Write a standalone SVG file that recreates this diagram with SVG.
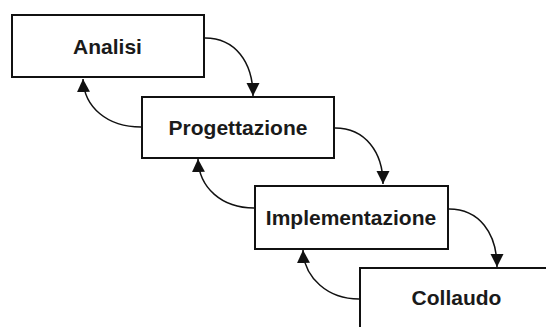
<svg xmlns="http://www.w3.org/2000/svg" width="546" height="327" viewBox="0 0 546 327">
  <defs>
    <style>
      .box { fill: #ffffff; stroke: #111111; stroke-width: 2; }
      .label { font-family: "Liberation Sans", Arial, sans-serif; font-weight: bold; font-size: 21px; fill: #1a1a1a; text-anchor: middle; }
      .conn { fill: none; stroke: #111111; stroke-width: 1.5; marker-end: url(#arrow); }
    </style>
    <marker id="arrow" markerUnits="userSpaceOnUse" markerWidth="14" markerHeight="14" refX="13" refY="6.5" orient="auto">
      <path d="M0,0 L13,6.5 L0,13 z" fill="#111111"/>
    </marker>
  </defs>
  <rect width="546" height="327" fill="#ffffff"/>
  <g id="connectors">
    <path class="conn" d="M205,38 C235,38 253,62 253,96"/>
    <path class="conn" d="M335,128 C365,128 383,152 383,184"/>
    <path class="conn" d="M449,209 C479,209 497,233 497,267"/>
    <path class="conn" d="M141,127 C107,127 84,107 83,79"/>
    <path class="conn" d="M254,208 C222,208 199,188 198,159"/>
    <path class="conn" d="M359,299 C328,299 304,278 303,250"/>
  </g>
  <g id="analisi">
    <rect class="box" x="12" y="15" width="192" height="62"/>
    <text class="label" x="107.5" y="54">Analisi</text>
  </g>
  <g id="progettazione">
    <rect class="box" x="142" y="97" width="192" height="61"/>
    <text class="label" x="238" y="135">Progettazione</text>
  </g>
  <g id="implementazione">
    <rect class="box" x="255" y="186" width="193" height="63"/>
    <text class="label" x="351" y="225">Implementazione</text>
  </g>
  <g id="collaudo">
    <rect class="box" x="360" y="268" width="200" height="70"/>
    <text class="label" x="456.5" y="305">Collaudo</text>
  </g>
</svg>
